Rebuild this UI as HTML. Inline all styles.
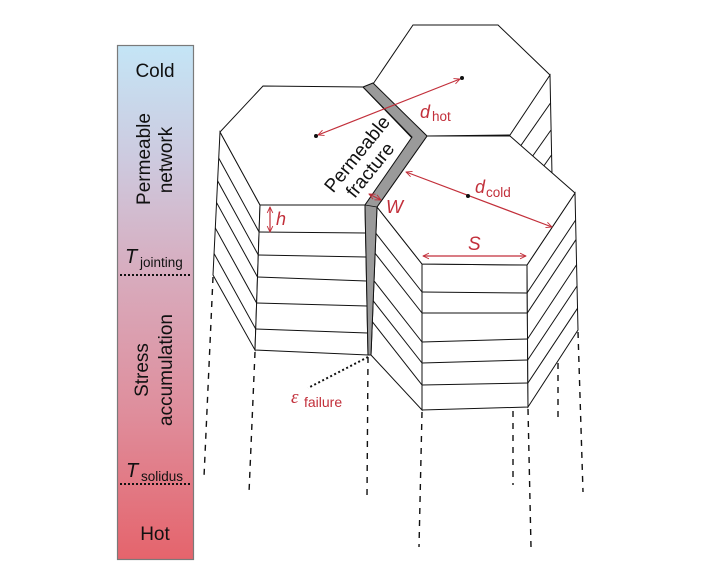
<!DOCTYPE html>
<html>
<head>
<meta charset="utf-8">
<style>
  html,body{margin:0;padding:0;background:#fff;}
  svg{display:block;}
  text{font-family:"Liberation Sans", Arial, sans-serif;}
</style>
</head>
<body>
<svg width="703" height="586" viewBox="0 0 703 586" xmlns="http://www.w3.org/2000/svg">
  <defs>
    <linearGradient id="bar" x1="0" y1="0" x2="0" y2="1">
      <stop offset="0" stop-color="#c4e5f6"/>
      <stop offset="0.22" stop-color="#cdcadf"/>
      <stop offset="0.45" stop-color="#d8abbd"/>
      <stop offset="0.72" stop-color="#df8d9b"/>
      <stop offset="1" stop-color="#e5646c"/>
    </linearGradient>
    <marker id="ar" viewBox="0 0 10 10" refX="9.5" refY="5" markerWidth="7" markerHeight="7" orient="auto-start-reverse" markerUnits="userSpaceOnUse">
      <path d="M1,1 L9.5,5 L1,9" fill="none" stroke="#c22f3a" stroke-width="1.3"/>
    </marker>
    <clipPath id="cTopR"><polygon points="508,135 550,75 552,175 510,150"/></clipPath>
    <clipPath id="cLL"><polygon points="220,132 260,205 255,350 213,275"/></clipPath>
    <clipPath id="cRL"><polygon points="377,207 422,264 422,410 371,355"/></clipPath>
    <clipPath id="cRR"><polygon points="527,265 575,193 578,330 528,407"/></clipPath>
  </defs>

  <!-- Left temperature bar -->
  <rect x="117.5" y="45.5" width="76" height="514" fill="url(#bar)" stroke="#7a7a7a" stroke-width="1.2"/>
  <line x1="120" y1="275" x2="192" y2="275" stroke="#111" stroke-width="2" stroke-dasharray="2 2"/>
  <line x1="120" y1="484" x2="192" y2="484" stroke="#111" stroke-width="2" stroke-dasharray="2 2"/>
  <text x="155" y="77" font-size="19" text-anchor="middle" fill="#111">Cold</text>
  <text transform="translate(150,159) rotate(-90)" font-size="19" text-anchor="middle" fill="#111">Permeable</text>
  <text transform="translate(172,160) rotate(-90)" font-size="19" text-anchor="middle" fill="#111">network</text>
  <text x="125" y="263" font-size="20" font-style="italic" fill="#111">T</text>
  <text x="140" y="267" font-size="13.5" fill="#111">jointing</text>
  <text transform="translate(148,370) rotate(-90)" font-size="19" text-anchor="middle" fill="#111">Stress</text>
  <text transform="translate(172,370) rotate(-90)" font-size="19" text-anchor="middle" fill="#111">accumulation</text>
  <text x="126" y="477" font-size="20" font-style="italic" fill="#111">T</text>
  <text x="141" y="481" font-size="13.5" fill="#111">solidus</text>
  <text x="155" y="540" font-size="19" text-anchor="middle" fill="#111">Hot</text>

  <!-- Dashed continuation lines -->
  <g stroke="#111" stroke-width="1.4" stroke-dasharray="6 6" fill="none">
    <line x1="213" y1="277" x2="204" y2="477"/>
    <line x1="255" y1="352" x2="249" y2="493"/>
    <line x1="368" y1="357" x2="367" y2="497"/>
    <line x1="422" y1="412" x2="419" y2="547"/>
    <line x1="513" y1="411" x2="513" y2="485"/>
    <line x1="528" y1="409" x2="531" y2="547"/>
    <line x1="558" y1="363" x2="558" y2="420"/>
    <line x1="578" y1="332" x2="583" y2="492"/>
  </g>

  <!-- Back (top) hexagon -->
  <g stroke="#111" stroke-width="1" fill="#fff">
    <polygon points="508,135 550,75 552,175 510,150"/>
    <g clip-path="url(#cTopR)">
      <line x1="550.5" y1="103" x2="508" y2="164"/>
      <line x1="551" y1="130" x2="508" y2="191"/>
      <line x1="551.5" y1="155" x2="508" y2="217"/>
    </g>
    <polygon points="413,25 498,25 550,75 510,135 427,136 373,84"/>
  </g>

  <!-- Left hexagon prism -->
  <g stroke="#111" stroke-width="1" fill="#fff">
    <polygon points="220,132 260,205 255,350 213,275"/>
    <g clip-path="url(#cLL)">
      <line x1="259.1" y1="232" x2="199" y2="122"/>
      <line x1="258.3" y1="255" x2="198" y2="145"/>
      <line x1="257.5" y1="277" x2="197" y2="167"/>
      <line x1="256.6" y1="303" x2="196" y2="193"/>
      <line x1="255.7" y1="329" x2="195" y2="219"/>
    </g>
    <polygon points="260,205 365,205 368,355 255,350"/>
    <line x1="259.1" y1="232" x2="365.6" y2="233"/>
    <line x1="258.3" y1="255" x2="366" y2="257"/>
    <line x1="257.5" y1="277" x2="366.5" y2="281"/>
    <line x1="256.6" y1="303" x2="367" y2="306"/>
    <line x1="255.7" y1="329" x2="367.5" y2="333"/>
    <polygon points="263,86 363,87 412,138 365,205 260,205 220,132"/>
  </g>

  <!-- Right hexagon prism -->
  <g stroke="#111" stroke-width="1" fill="#fff">
    <polygon points="377,207 422,264 422,410 371,355"/>
    <g clip-path="url(#cRL)">
      <line x1="422" y1="292" x2="356" y2="208"/>
      <line x1="422" y1="313" x2="356" y2="229"/>
      <line x1="422" y1="342" x2="356" y2="258"/>
      <line x1="422" y1="363" x2="356" y2="279"/>
      <line x1="422" y1="385" x2="356" y2="301"/>
    </g>
    <polygon points="422,264 527,265 528,407 422,410"/>
    <line x1="422" y1="292" x2="527" y2="293"/>
    <line x1="422" y1="313" x2="527.3" y2="313"/>
    <line x1="422" y1="342" x2="527.5" y2="339"/>
    <line x1="422" y1="363" x2="527.7" y2="360"/>
    <line x1="422" y1="385" x2="527.9" y2="383"/>
    <polygon points="527,265 575,193 578,330 528,407"/>
    <g clip-path="url(#cRR)">
      <line x1="527" y1="293" x2="587" y2="203"/>
      <line x1="527.3" y1="313" x2="587" y2="223"/>
      <line x1="527.5" y1="339" x2="587" y2="249"/>
      <line x1="527.7" y1="360" x2="587" y2="271"/>
      <line x1="527.9" y1="383" x2="587" y2="294"/>
    </g>
    <polygon points="427,136 510,136 575,193 527,265 422,264 377,207"/>
  </g>

  <!-- Gray permeable fracture band -->
  <polygon points="363,87 373,83 427,136 377,207 371,355 368,355 365,205 412,137" fill="#9a9a9a" stroke="#111" stroke-width="1"/>
  <line x1="365" y1="205" x2="377" y2="207" stroke="#111" stroke-width="0.8"/>

  <!-- Fracture text -->
  <text transform="translate(362,158) rotate(-51)" font-size="19" text-anchor="middle" fill="#111">Permeable</text>
  <text transform="translate(375,174) rotate(-51)" font-size="19" text-anchor="middle" fill="#111">fracture</text>

  <!-- epsilon failure dotted -->
  <line x1="368" y1="357" x2="308" y2="388" stroke="#111" stroke-width="2" stroke-dasharray="2 2.5"/>
  <text x="291" y="403" font-size="19" font-style="italic" fill="#c22f3a" style="font-family:'Liberation Serif',serif;">ε</text>
  <text x="304" y="407" font-size="14" fill="#c22f3a">failure</text>

  <!-- Red dimension arrows -->
  <g stroke="#c22f3a" stroke-width="1.2" fill="none">
    <line x1="318" y1="135" x2="460" y2="79" marker-start="url(#ar)" marker-end="url(#ar)"/>
    <line x1="406" y1="172" x2="552" y2="227" marker-start="url(#ar)" marker-end="url(#ar)"/>
    <line x1="369" y1="194" x2="381" y2="200" marker-start="url(#ar)" marker-end="url(#ar)"/>
    <line x1="270" y1="207" x2="270" y2="232" marker-start="url(#ar)" marker-end="url(#ar)"/>
    <line x1="423" y1="256" x2="526" y2="256" marker-start="url(#ar)" marker-end="url(#ar)"/>
  </g>
  <circle cx="316" cy="136" r="2" fill="#111"/>
  <circle cx="462" cy="78" r="2" fill="#111"/>
  <circle cx="468" cy="196" r="2" fill="#111"/>

  <!-- Red labels -->
  <text x="420" y="118" font-size="18" font-style="italic" fill="#c22f3a">d</text>
  <text x="432" y="121" font-size="13.5" fill="#c22f3a">hot</text>
  <text x="475" y="193" font-size="18" font-style="italic" fill="#c22f3a">d</text>
  <text x="486" y="197" font-size="13.5" fill="#c22f3a">cold</text>
  <text x="386" y="213" font-size="18" font-style="italic" fill="#c22f3a">W</text>
  <text x="276" y="225" font-size="18" font-style="italic" fill="#c22f3a">h</text>
  <text x="468" y="250" font-size="19" font-style="italic" fill="#c22f3a">S</text>
</svg>
</body>
</html>
